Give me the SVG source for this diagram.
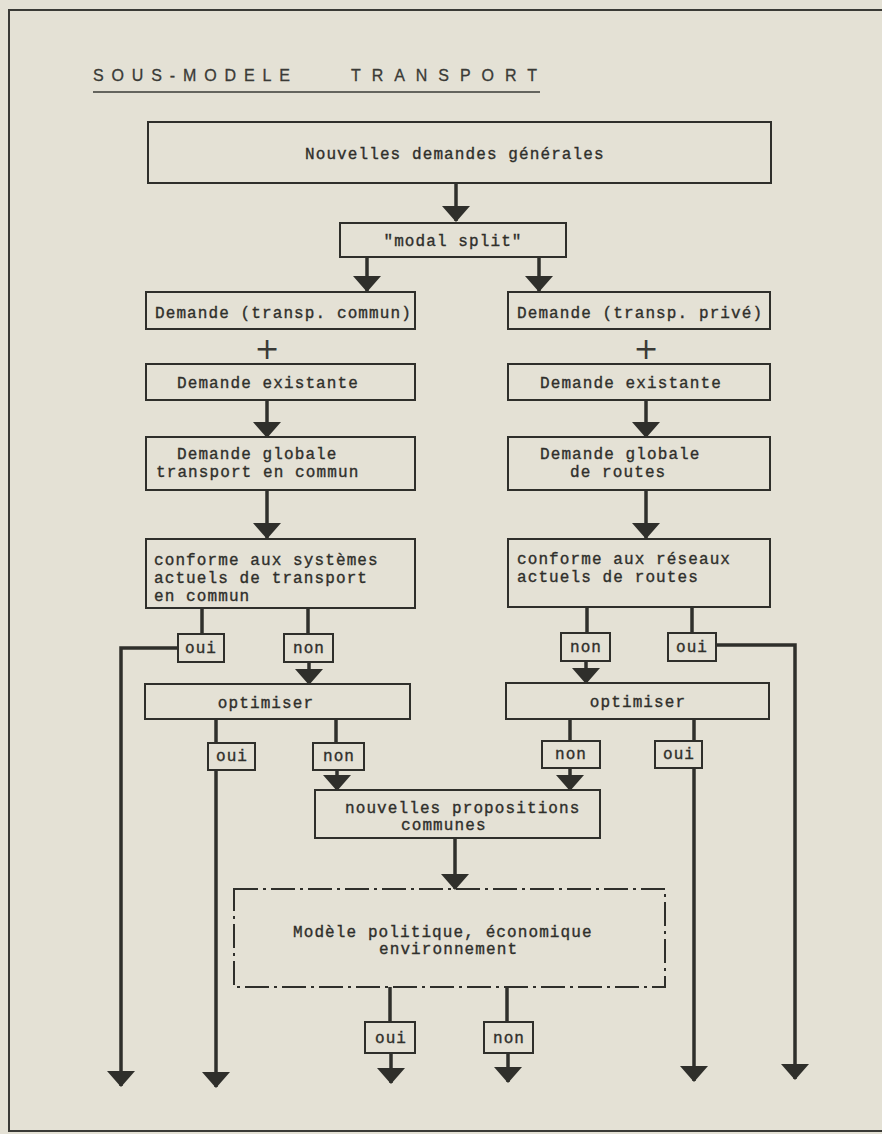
<svg xmlns="http://www.w3.org/2000/svg" width="882" height="1134" viewBox="0 0 882 1134">
<style>
.bx{fill:none;stroke:#2f2f2b;stroke-width:2}
.dd{fill:none;stroke:#2f2f2b;stroke-width:2;stroke-dasharray:24 5 3 5}
.ln{fill:none;stroke:#2f2f2b;stroke-width:3.5}
.t{font-family:"Liberation Mono","Courier New",monospace;font-size:16px;letter-spacing:1.1px;fill:#2f2f2b;stroke:#2f2f2b;stroke-width:0.35}
.c{text-anchor:middle}
.ti{font-family:"Liberation Sans",Arial,sans-serif;font-size:16px;fill:#3a3a36;stroke:#3a3a36;stroke-width:0.3}
.pl{font-family:"DejaVu Sans",sans-serif;font-size:30px;fill:#3a3a36;text-anchor:middle}
</style>
<defs>
<marker id="ah" markerUnits="userSpaceOnUse" markerWidth="16" markerHeight="28" refX="15" refY="14" orient="auto" viewBox="0 0 16 28">
<path d="M0,0 L16,14 L0,28 z" fill="#2f2f2b"/>
</marker>
</defs>
<rect width="882" height="1134" fill="#e4e1d5"/>
<path d="M882 10 H9 V1131 H882" fill="none" stroke="#3a3a36" stroke-width="2"/>
<g id="title">
<text class="ti" x="93" y="81" textLength="197" lengthAdjust="spacing">SOUS-MODELE</text>
<text class="ti" x="351" y="81" textLength="186" lengthAdjust="spacing">TRANSPORT</text>
<line x1="93" y1="92" x2="540" y2="92" stroke="#3a3a36" stroke-width="1.6"/>
</g>
<g id="connectors">
<path class="ln" d="M456 183 V221" marker-end="url(#ah)"/>
<path class="ln" d="M367 257 V291" marker-end="url(#ah)"/>
<path class="ln" d="M539 257 V291" marker-end="url(#ah)"/>
<path class="ln" d="M267 400 V437" marker-end="url(#ah)"/>
<path class="ln" d="M646 400 V437" marker-end="url(#ah)"/>
<path class="ln" d="M267 490 V538" marker-end="url(#ah)"/>
<path class="ln" d="M646 490 V538" marker-end="url(#ah)"/>
<path class="ln" d="M202 608 V634"/>
<path class="ln" d="M308 608 V634"/>
<path class="ln" d="M178 648 H121 V1086" marker-end="url(#ah)"/>
<path class="ln" d="M309 662 V684" marker-end="url(#ah)"/>
<path class="ln" d="M587 607 V633"/>
<path class="ln" d="M692 607 V633"/>
<path class="ln" d="M586 661 V683" marker-end="url(#ah)"/>
<path class="ln" d="M716 645 H795 V1079" marker-end="url(#ah)"/>
<path class="ln" d="M216 719 V743"/>
<path class="ln" d="M336 719 V743"/>
<path class="ln" d="M216 770 V1087" marker-end="url(#ah)"/>
<path class="ln" d="M337 770 V790" marker-end="url(#ah)"/>
<path class="ln" d="M570 719 V741"/>
<path class="ln" d="M694 719 V741"/>
<path class="ln" d="M570 768 V790" marker-end="url(#ah)"/>
<path class="ln" d="M694 768 V1081" marker-end="url(#ah)"/>
<path class="ln" d="M455 838 V889" marker-end="url(#ah)"/>
<path class="ln" d="M390 987 V1022"/>
<path class="ln" d="M507 987 V1022"/>
<path class="ln" d="M391 1053 V1083" marker-end="url(#ah)"/>
<path class="ln" d="M508 1053 V1082" marker-end="url(#ah)"/>
</g>
<g id="n-nouvelles"><rect class="bx" x="148" y="122" width="623" height="61"/><text class="t" x="305" y="159">Nouvelles demandes générales</text></g>
<g id="n-modal"><rect class="bx" x="340" y="223" width="226" height="34"/><text class="t c" x="453" y="246">"modal split"</text></g>
<g id="n-dem-commun"><rect class="bx" x="146" y="292" width="269" height="37"/><text class="t" x="155" y="318">Demande (transp. commun)</text></g>
<g id="n-dem-prive"><rect class="bx" x="508" y="292" width="262" height="37"/><text class="t" x="517" y="318">Demande (transp. privé)</text></g>
<g id="plus-l"><text class="pl" x="267" y="359">+</text></g>
<g id="plus-r"><text class="pl" x="646" y="359">+</text></g>
<g id="n-exist-l"><rect class="bx" x="146" y="364" width="269" height="36"/><text class="t" x="177" y="388">Demande existante</text></g>
<g id="n-exist-r"><rect class="bx" x="508" y="364" width="262" height="36"/><text class="t" x="540" y="388">Demande existante</text></g>
<g id="n-glob-l"><rect class="bx" x="146" y="437" width="269" height="53"/><text class="t" x="177" y="459">Demande globale</text><text class="t" x="156" y="477">transport en commun</text></g>
<g id="n-glob-r"><rect class="bx" x="508" y="437" width="262" height="53"/><text class="t" x="540" y="459">Demande globale</text><text class="t" x="570" y="477">de routes</text></g>
<g id="n-conf-l"><rect class="bx" x="146" y="539" width="269" height="69"/><text class="t" x="154" y="565">conforme aux systèmes</text><text class="t" x="154" y="583">actuels de transport</text><text class="t" x="154" y="601">en commun</text></g>
<g id="n-conf-r"><rect class="bx" x="508" y="539" width="262" height="68"/><text class="t" x="517" y="564">conforme aux réseaux</text><text class="t" x="517" y="582">actuels de routes</text></g>
<g id="n-oui1-l"><rect class="bx" x="178" y="634" width="46" height="28"/><text class="t c" x="201" y="653">oui</text></g>
<g id="n-non1-l"><rect class="bx" x="284" y="634" width="49" height="28"/><text class="t c" x="309" y="653">non</text></g>
<g id="n-non1-r"><rect class="bx" x="561" y="633" width="49" height="28"/><text class="t c" x="586" y="652">non</text></g>
<g id="n-oui1-r"><rect class="bx" x="668" y="633" width="48" height="28"/><text class="t c" x="692" y="652">oui</text></g>
<g id="n-opt-l"><rect class="bx" x="145" y="684" width="265" height="35"/><text class="t c" x="266" y="708">optimiser</text></g>
<g id="n-opt-r"><rect class="bx" x="506" y="683" width="263" height="36"/><text class="t c" x="638" y="707">optimiser</text></g>
<g id="n-oui2-l"><rect class="bx" x="208" y="743" width="47" height="27"/><text class="t c" x="232" y="761">oui</text></g>
<g id="n-non2-l"><rect class="bx" x="313" y="743" width="51" height="27"/><text class="t c" x="339" y="761">non</text></g>
<g id="n-non2-r"><rect class="bx" x="542" y="741" width="58" height="27"/><text class="t c" x="571" y="759">non</text></g>
<g id="n-oui2-r"><rect class="bx" x="655" y="741" width="47" height="27"/><text class="t c" x="679" y="759">oui</text></g>
<g id="n-propositions"><rect class="bx" x="315" y="790" width="285" height="48"/><text class="t" x="345" y="813">nouvelles propositions</text><text class="t" x="401" y="830">communes</text></g>
<g id="n-modele"><rect class="dd" x="234" y="889" width="431" height="98"/><text class="t" x="293" y="937">Modèle politique, économique</text><text class="t" x="379" y="954">environnement</text></g>
<g id="n-oui3"><rect class="bx" x="365" y="1022" width="50" height="31"/><text class="t c" x="391" y="1043">oui</text></g>
<g id="n-non3"><rect class="bx" x="484" y="1022" width="49" height="31"/><text class="t c" x="509" y="1043">non</text></g>
</svg>
